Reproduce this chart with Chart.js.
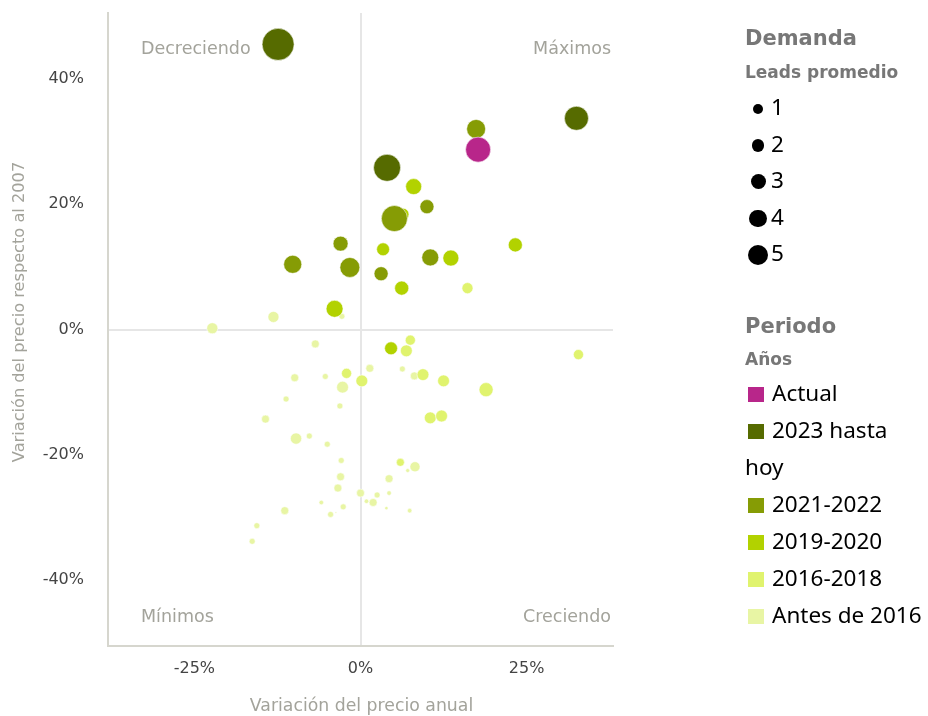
<!DOCTYPE html>
<html>
<head>
<meta charset="utf-8">
<script src="https://cdn.jsdelivr.net/npm/chart.js@4/dist/chart.umd.min.js"></script>
<style>
  body { margin: 0; background: #fff; }
  #wrap { position: relative; width: 928px; height: 716px; }
  #legend { position: absolute; left: 745px; top: 0; width: 183px; font-family: "Noto Sans", sans-serif; color: #000; }
  .lg-title { position: absolute; left: 0; font-family: "DejaVu Sans", sans-serif; font-weight: bold; color: #777; white-space: nowrap; }
  .lg-block { position: absolute; left: 0; width: 183px; font-size: 22.5px; }
  .size-row { height: 36.5px; line-height: 36.5px; white-space: nowrap; }
  .size-row .dot-box { display: inline-block; width: 26px; height: 20px; position: relative; vertical-align: middle; }
  .size-row .dot { position: absolute; background: #000; border-radius: 50%; }
  .period-item { line-height: 37px; }
  .swatch { display: inline-block; width: 16px; height: 15px; margin-left: 3px; margin-right: 8px; vertical-align: -1px; }
</style>
</head>
<body>
<div id="wrap">
  <canvas id="chart" width="928" height="716"></canvas>
  <div id="legend"></div>
</div>
<script>
// periods (legend order) and their colours
const periods = ['Actual', '2023 hasta hoy', '2021-2022', '2019-2020', '2016-2018', 'Antes de 2016'];
const periodColors = ['#b8268a', '#566b00', '#869c05', '#b2d200', '#e0f36e', '#e8f5a4'];

// x = variación anual (%), y = variación respecto al 2007 (%), leads = leads promedio
const actualX = [17.7];
const actualY = [28.7];
const actualLeads = [9.8];

const p2023X = [-12.4, 32.5, 4.0];
const p2023Y = [45.5, 33.7, 25.8];
const p2023Leads = [16, 9, 11.4];

const p2021X = [17.4, 10.0, 5.1, -3.0, -10.2, -1.6, 10.5, 3.1];
const p2021Y = [32.0, 19.6, 17.7, 13.7, 10.4, 9.9, 11.5, 8.9];
const p2021Leads = [5.6, 3.1, 10.6, 3.5, 5.1, 6.2, 4.5, 3.1];

const p2019X = [8.0, 6.4, 3.4, 23.3, 13.6, 6.2, -3.9, 4.6];
const p2019Y = [22.8, 18.4, 12.8, 13.5, 11.4, 6.6, 3.3, -3.0];
const p2019Leads = [4, 2.2, 2.6, 3.1, 4, 3.1, 4.5, 2.6];

const p2016X = [16.1, 7.5, 6.9, 32.8, -2.1, 0.2, 9.4, 12.5, 18.9, 10.5, 12.2, 6.0];
const p2016Y = [6.6, -1.7, -3.4, -4.0, -7.0, -8.2, -7.2, -8.2, -9.6, -14.1, -13.8, -21.2];
const p2016Leads = [1.9, 1.6, 2.2, 1.6, 1.6, 2.2, 2.2, 2.2, 3.1, 2.2, 2.2, 1];

const antesX = [-2.8, -13.1, -22.3, -6.8, 1.4, 6.3, -9.9, -5.3, -2.7, 8.1, -11.2, -3.1, -14.3, -9.7, -7.7, -5.0, -2.9, -3.0,
  -3.4, -5.9, -2.6, -4.5, -3.7, -11.4, -15.6, -16.3, 0.0, 0.9, 1.9, 2.5, 4.3, 4.3, 3.9, 7.4, 7.1, 8.2];
const antesY = [2.1, 2.0, 0.2, -2.3, -6.2, -6.3, -7.7, -7.5, -9.2, -7.4, -11.1, -12.2, -14.3, -17.4, -17.0, -18.3, -20.9, -23.5,
  -25.3, -27.6, -28.3, -29.5, -29.2, -28.9, -31.3, -33.8, -26.1, -27.4, -27.6, -26.4, -23.8, -26.1, -28.5, -28.9, -22.5, -21.9];
const antesLeads = [0.56, 1.9, 1.9, 1, 1, 0.56, 1, 0.56, 2.2, 1, 0.56, 0.56, 1, 2, 0.56, 0.56, 0.56, 1,
  1, 0.33, 0.56, 0.56, 0.04, 1, 0.56, 0.56, 1, 0.33, 1, 0.56, 1, 0.33, 0.18, 0.33, 0.25, 1.6];

const sizeLegend = [1, 2, 3, 4, 5];
const xTicks = [-25, 0, 25];
const yTicks = [-40, -20, 0, 20, 40];
const quadrants = ['Decreciendo', 'Máximos', 'Mínimos', 'Creciendo'];
const xTitle = 'Variación del precio anual';
const yTitle = 'Variación del precio respecto al 2007';

const radius = leads => 4 * Math.sqrt(leads);
const legendRadius = v => 3.75 + 1.25 * v;

function points(xs, ys, leads) {
  return xs.map((x, i) => ({ x: x, y: ys[i], r: radius(leads[i]) }));
}

const seriesData = [
  points(actualX, actualY, actualLeads),
  points(p2023X, p2023Y, p2023Leads),
  points(p2021X, p2021Y, p2021Leads),
  points(p2019X, p2019Y, p2019Leads),
  points(p2016X, p2016Y, p2016Leads),
  points(antesX, antesY, antesLeads)
];

const textColor = '#a3a39b';
const chartFont = 'DejaVu Sans';

const labelsPlugin = {
  id: 'quadLabels',
  beforeDatasetsDraw(chart) {
    const { ctx, chartArea } = chart;
    ctx.save();
    ctx.font = '17.5px "' + chartFont + '"';
    ctx.fillStyle = textColor;
    ctx.textBaseline = 'middle';
    ctx.textAlign = 'left';
    ctx.fillText(quadrants[0], chartArea.left + 33, chartArea.top + 36);
    ctx.fillText(quadrants[2], chartArea.left + 33, chartArea.bottom - 29);
    ctx.textAlign = 'right';
    ctx.fillText(quadrants[1], chartArea.right - 2, chartArea.top + 36);
    ctx.fillText(quadrants[3], chartArea.right - 2, chartArea.bottom - 29);
    ctx.restore();
  },
  afterDraw(chart) {
    const { ctx, chartArea } = chart;
    ctx.save();
    ctx.fillStyle = textColor;
    ctx.textAlign = 'center';
    ctx.textBaseline = 'middle';
    ctx.font = '17.3px "' + chartFont + '"';
    ctx.fillText(xTitle, (chartArea.left + chartArea.right) / 2 + 1, chart.height - 9);
    ctx.font = '16.2px "' + chartFont + '"';
    ctx.translate(20, (chartArea.top + chartArea.bottom) / 2 - 17.5);
    ctx.rotate(-Math.PI / 2);
    ctx.fillText(yTitle, 0, 0);
    ctx.restore();
  }
};

const zeroLine = c => (c.tick && c.tick.value === 0 ? '#e6e6e6' : 'rgba(0,0,0,0)');

// fixed box sizes, no extra padding from edge tick labels
function fitBox(prop, size) {
  return s => {
    s[prop] = size;
    s.paddingTop = s.paddingBottom = s.paddingLeft = s.paddingRight = 0;
  };
}

new Chart(document.getElementById('chart'), {
  type: 'bubble',
  data: {
    datasets: periods.map((p, i) => ({
      label: p,
      data: seriesData[i],
      backgroundColor: periodColors[i],
      borderColor: 'rgba(255,255,255,0.7)',
      borderWidth: 0.8,
      hoverRadius: 0,
      clip: false
    }))
  },
  options: {
    responsive: false,
    animation: false,
    layout: { autoPadding: false, padding: { top: 13, right: 315, left: 0, bottom: 0 } },
    plugins: { legend: { display: false }, tooltip: { enabled: false } },
    scales: {
      x: {
        type: 'linear',
        min: -38,
        max: 38,
        afterBuildTicks: s => { s.ticks = xTicks.map(v => ({ value: v })); },
        afterFit: fitBox('height', 70),
        ticks: {
          callback: v => v + '%',
          padding: 13,
          color: '#444',
          font: { family: chartFont, size: 16 }
        },
        grid: { color: zeroLine, lineWidth: 2, drawTicks: false },
        border: { color: '#d6d6ce', width: 2 }
      },
      y: {
        type: 'linear',
        min: -50.5,
        max: 50.5,
        afterBuildTicks: s => { s.ticks = yTicks.map(v => ({ value: v })); },
        afterFit: fitBox('width', 108),
        ticks: {
          callback: v => v + '%',
          padding: 24,
          color: '#444',
          font: { family: chartFont, size: 16 }
        },
        grid: { color: zeroLine, lineWidth: 2, drawTicks: false },
        border: { color: '#d6d6ce', width: 2 }
      }
    }
  },
  plugins: [labelsPlugin]
});

// HTML legend
const legend = document.getElementById('legend');
function title(text, top, size) {
  const d = document.createElement('div');
  d.className = 'lg-title';
  d.textContent = text;
  d.style.top = top + 'px';
  d.style.fontSize = size + 'px';
  d.style.lineHeight = '28px';
  legend.appendChild(d);
}
title('Demanda', 24, 21);
title('Leads promedio', 58, 17);

const sizeBlock = document.createElement('div');
sizeBlock.className = 'lg-block';
sizeBlock.style.top = '89px';
sizeLegend.forEach(v => {
  const row = document.createElement('div');
  row.className = 'size-row';
  const box = document.createElement('span');
  box.className = 'dot-box';
  const dot = document.createElement('span');
  dot.className = 'dot';
  const r = legendRadius(v);
  dot.style.width = dot.style.height = (2 * r) + 'px';
  dot.style.left = (13 - r) + 'px';
  dot.style.top = (10 - r) + 'px';
  box.appendChild(dot);
  row.appendChild(box);
  row.appendChild(document.createTextNode(String(v)));
  sizeBlock.appendChild(row);
});
legend.appendChild(sizeBlock);

title('Periodo', 312, 21);
title('Años', 345, 17);

const periodBlock = document.createElement('div');
periodBlock.className = 'lg-block';
periodBlock.style.top = '374px';
periodBlock.style.width = '181px';
periods.forEach((p, i) => {
  const item = document.createElement('div');
  item.className = 'period-item';
  const sw = document.createElement('span');
  sw.className = 'swatch';
  sw.style.background = periodColors[i];
  item.appendChild(sw);
  item.appendChild(document.createTextNode(p));
  periodBlock.appendChild(item);
});
legend.appendChild(periodBlock);
</script>
</body>
</html>
